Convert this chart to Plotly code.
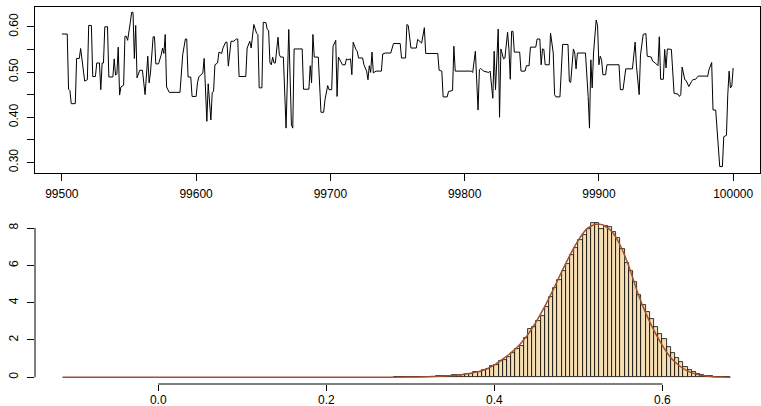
import numpy as np
import plotly.graph_objects as go

# ---------------- trace plot data (iteration, value) ----------------
trace_iter = [
    99500, 99504, 99505, 99506, 99507, 99510, 99511, 99513, 99514, 99515,
    99517, 99519, 99520, 99522, 99523, 99525, 99526, 99528, 99529, 99530,
    99531, 99532, 99534, 99535, 99538, 99539, 99540, 99541, 99542, 99543,
    99544, 99546, 99547, 99548, 99549, 99551, 99552, 99553, 99554, 99555,
    99556, 99558, 99560, 99562, 99564, 99565, 99566, 99568, 99569, 99570,
    99572, 99574, 99575, 99576, 99577, 99578, 99580, 99588, 99590, 99592,
    99593, 99594, 99596, 99597, 99600, 99601, 99602, 99605, 99606, 99608,
    99609, 99611, 99612, 99613, 99614, 99616, 99617, 99619, 99620, 99622,
    99623, 99624, 99626, 99628, 99630, 99631, 99632, 99637, 99638, 99640,
    99641, 99643, 99645, 99646, 99647, 99649, 99650, 99652, 99653, 99654,
    99655, 99656, 99657, 99658, 99659, 99661, 99662, 99663, 99665, 99667,
    99668, 99669, 99671, 99672, 99673, 99679, 99680, 99684, 99685, 99686,
    99687, 99688, 99691, 99693, 99695, 99696, 99698, 99699, 99701, 99702,
    99704, 99705, 99706, 99707, 99709, 99711, 99712, 99713, 99715, 99716,
    99717, 99719, 99720, 99721, 99724, 99725, 99727, 99728, 99729, 99730,
    99731, 99732, 99734, 99738, 99739, 99741, 99745, 99747, 99752, 99753,
    99756, 99757, 99758, 99760, 99764, 99765, 99767, 99768, 99770, 99771,
    99780, 99781, 99783, 99784, 99787, 99788, 99791, 99792, 99793, 99805,
    99806, 99808, 99810, 99811, 99812, 99814, 99818, 99819, 99821, 99822,
    99823, 99825, 99826, 99827, 99829, 99830, 99832, 99833, 99834, 99835,
    99836, 99837, 99841, 99842, 99845, 99846, 99848, 99849, 99853, 99854,
    99856, 99857, 99858, 99859, 99860, 99863, 99864, 99866, 99867, 99868,
    99871, 99873, 99877, 99878, 99879, 99881, 99882, 99883, 99884, 99890,
    99892, 99893, 99894, 99895, 99896, 99898, 99899, 99900, 99901, 99902,
    99903, 99905, 99906, 99915, 99916, 99918, 99920, 99925, 99927, 99928,
    99930, 99931, 99933, 99935, 99936, 99939, 99940, 99942, 99944, 99945,
    99946, 99948, 99949, 99950, 99951, 99954, 99956, 99959, 99960, 99961,
    99962, 99964, 99965, 99967, 99969, 99970, 99972, 99974, 99980, 99981,
    99982, 99984, 99985, 99987, 99990, 99992, 99993, 99995, 99996, 99997,
    99998, 99999, 100000,
]
trace_value = [
    0.584, 0.584, 0.462, 0.459, 0.430, 0.430, 0.530, 0.530, 0.552, 0.530,
    0.480, 0.483, 0.603, 0.603, 0.490, 0.490, 0.520, 0.520, 0.461, 0.520,
    0.520, 0.600, 0.600, 0.489, 0.489, 0.529, 0.493, 0.496, 0.555, 0.449,
    0.467, 0.471, 0.579, 0.579, 0.570, 0.610, 0.632, 0.632, 0.530, 0.603,
    0.487, 0.504, 0.504, 0.450, 0.535, 0.476, 0.498, 0.578, 0.578, 0.518,
    0.518, 0.538, 0.553, 0.541, 0.583, 0.467, 0.455, 0.455, 0.538, 0.573,
    0.573, 0.489, 0.489, 0.446, 0.446, 0.476, 0.489, 0.498, 0.530, 0.391,
    0.474, 0.394, 0.455, 0.457, 0.516, 0.520, 0.544, 0.541, 0.553, 0.566,
    0.566, 0.513, 0.568, 0.568, 0.573, 0.573, 0.490, 0.490, 0.553, 0.568,
    0.553, 0.605, 0.586, 0.583, 0.465, 0.465, 0.610, 0.609, 0.594, 0.592,
    0.520, 0.516, 0.533, 0.520, 0.520, 0.577, 0.538, 0.533, 0.533, 0.376,
    0.476, 0.594, 0.383, 0.376, 0.551, 0.551, 0.462, 0.462, 0.514, 0.476,
    0.583, 0.533, 0.533, 0.411, 0.411, 0.439, 0.470, 0.461, 0.461, 0.557,
    0.570, 0.446, 0.533, 0.527, 0.516, 0.516, 0.529, 0.527, 0.529, 0.494,
    0.566, 0.550, 0.546, 0.531, 0.531, 0.516, 0.502, 0.483, 0.514, 0.499,
    0.544, 0.498, 0.502, 0.502, 0.540, 0.542, 0.542, 0.563, 0.563, 0.531,
    0.531, 0.605, 0.603, 0.553, 0.553, 0.572, 0.566, 0.564, 0.598, 0.541,
    0.541, 0.504, 0.502, 0.445, 0.445, 0.457, 0.459, 0.557, 0.502, 0.502,
    0.499, 0.546, 0.416, 0.505, 0.508, 0.502, 0.499, 0.502, 0.442, 0.546,
    0.461, 0.595, 0.400, 0.551, 0.529, 0.531, 0.588, 0.550, 0.484, 0.590,
    0.590, 0.544, 0.544, 0.502, 0.502, 0.514, 0.514, 0.555, 0.555, 0.573,
    0.573, 0.516, 0.551, 0.550, 0.516, 0.516, 0.586, 0.542, 0.450, 0.445,
    0.445, 0.561, 0.561, 0.479, 0.477, 0.551, 0.542, 0.507, 0.542, 0.542,
    0.446, 0.376, 0.527, 0.465, 0.542, 0.615, 0.603, 0.516, 0.535, 0.527,
    0.494, 0.494, 0.516, 0.516, 0.461, 0.461, 0.507, 0.507, 0.566, 0.513,
    0.450, 0.538, 0.583, 0.585, 0.535, 0.533, 0.524, 0.520, 0.514, 0.578,
    0.484, 0.484, 0.550, 0.509, 0.551, 0.550, 0.453, 0.451, 0.446, 0.450,
    0.511, 0.483, 0.481, 0.468, 0.479, 0.483, 0.484, 0.491, 0.491, 0.490,
    0.505, 0.521, 0.416, 0.416, 0.291, 0.291, 0.357, 0.360, 0.450, 0.502,
    0.465, 0.469, 0.509,
]
trace_xticks = [99500, 99600, 99700, 99800, 99900, 100000]
trace_xticklabels = ["99500", "99600", "99700", "99800", "99900", "100000"]
trace_yticks = [0.30, 0.35, 0.40, 0.45, 0.50, 0.55, 0.60]
trace_yticklabels = ["0.30", "", "0.40", "", "0.50", "", "0.60"]

# ---------------- histogram data (density per bin) ----------------
hist_first_edge = 0.280
hist_bin_width = 0.005
hist_density = [
    0.005, 0.005, 0.01, 0.01,
    0.01, 0.015, 0.02, 0.02,
    0.03, 0.03, 0.05, 0.06,
    0.07, 0.09, 0.10, 0.12,
    0.15, 0.18, 0.20, 0.27,
    0.30, 0.40, 0.45, 0.60,
    0.68, 0.85, 0.95, 1.10,
    1.30, 1.50, 1.70, 2.10,
    2.60, 2.70, 3.00, 3.30,
    3.75, 4.30, 4.80, 5.20,
    5.70, 6.05, 6.55, 6.95,
    7.35, 7.60, 7.95, 8.26,
    8.25, 7.95, 8.10, 8.05,
    7.80, 7.45, 6.90, 6.10,
    5.70, 5.10, 4.40, 3.90,
    3.50, 3.10, 2.70, 2.30,
    2.05, 1.60, 1.30, 1.05,
    0.80, 0.55, 0.40, 0.30,
    0.20, 0.13, 0.08, 0.05,
    0.03, 0.02, 0.01, 0.005,
]
dens_x = [-0.114, 0.25, 0.30, 0.32, 0.34, 0.36, 0.37, 0.38, 0.39, 0.40,
          0.41, 0.42, 0.43, 0.44, 0.45, 0.46, 0.47, 0.48, 0.49, 0.50,
          0.51, 0.52, 0.53, 0.54, 0.55, 0.56, 0.57, 0.58, 0.59, 0.60,
          0.61, 0.62, 0.63, 0.64, 0.65, 0.66, 0.67, 0.681]
dens_y = [0.0, 0.002, 0.015, 0.03, 0.065, 0.14, 0.20, 0.29, 0.43, 0.66,
          0.98, 1.32, 1.75, 2.30, 3.00, 3.80, 4.70, 5.65, 6.55, 7.35,
          7.95, 8.20, 8.15, 7.80, 7.05, 5.95, 4.60, 3.45, 2.50, 1.70,
          1.05, 0.62, 0.33, 0.17, 0.08, 0.035, 0.012, 0.003]
hist_xticks = [0.0, 0.2, 0.4, 0.6]
hist_xticklabels = ["0.0", "0.2", "0.4", "0.6"]
hist_yticks = [0, 2, 4, 6, 8]
hist_yticklabels = ["0", "2", "4", "6", "8"]

# ---------------- layout geometry ----------------
W, H = 761, 406
xd = [35 / W, 760 / W]
top_dom = [1 - 173.3 / H, 1 - 6.7 / H]
bot_dom = [1 - 384 / H, 1 - 216 / H]

FONT = "Liberation Sans, Arial, Helvetica, sans-serif"
NARROW = "Liberation Sans Narrow, Arial Narrow, Liberation Sans, Arial, sans-serif"

centers = hist_first_edge + hist_bin_width * (np.arange(len(hist_density)) + 0.5)

fig = go.Figure()
fig.add_trace(go.Scatter(x=trace_iter, y=trace_value, mode="lines",
                         line=dict(color="black", width=1),
                         xaxis="x", yaxis="y", showlegend=False, hoverinfo="skip"))
fig.add_trace(go.Bar(x=centers, y=hist_density, width=hist_bin_width,
                     marker=dict(color="#F7DEB2", line=dict(color="black", width=0.8)),
                     xaxis="x2", yaxis="y2", showlegend=False, hoverinfo="skip"))
fig.add_trace(go.Scatter(x=dens_x, y=dens_y, mode="lines",
                         line=dict(color="#A0522D", width=1.5, shape="spline", smoothing=0.6),
                         xaxis="x2", yaxis="y2", showlegend=False, hoverinfo="skip"))

axis_common = dict(showgrid=False, zeroline=False, ticks="outside",
                   tickwidth=1, tickcolor="black", automargin=False,
                   tickfont=dict(family=FONT, size=12, color="black"))
narrow_font = dict(family=NARROW, size=12, color="black")

fig.update_layout(
    width=W, height=H, margin=dict(l=0, r=0, t=0, b=0, autoexpand=False),
    paper_bgcolor="white", plot_bgcolor="white", bargap=0,
    xaxis=dict(domain=xd, anchor="y", range=[99480, 100020],
               tickmode="array", tickvals=trace_xticks, ticktext=trace_xticklabels,
               showline=True, linecolor="black", linewidth=1, mirror=True,
               ticklen=7, ticklabelstandoff=2, **axis_common),
    yaxis=dict(domain=top_dom, anchor="x", range=[0.2761, 0.6444],
               tickmode="array", tickvals=trace_yticks, ticktext=trace_yticklabels,
               showline=True, linecolor="black", linewidth=1, mirror=True,
               ticklen=7, tickangle=-90, ticklabelstandoff=4,
               **{**axis_common, "tickfont": narrow_font}),
    xaxis2=dict(domain=xd, anchor="y2", range=[-0.1467, 0.7161],
                tickmode="array", tickvals=hist_xticks, ticktext=hist_xticklabels,
                showline=False, ticklen=6, ticklabelstandoff=-1, **axis_common),
    yaxis2=dict(domain=bot_dom, anchor="x2", range=[-0.359, 8.643],
                tickmode="array", tickvals=hist_yticks, ticktext=hist_yticklabels,
                showline=False, ticklen=7, tickangle=-90, ticklabelstandoff=4,
                **{**axis_common, "tickfont": narrow_font}),
    shapes=[
        dict(type="line", xref="x2", yref="paper", x0=hist_xticks[0], x1=hist_xticks[-1],
             y0=bot_dom[0], y1=bot_dom[0], line=dict(color="black", width=1)),
        dict(type="line", xref="paper", yref="y2", x0=xd[0], x1=xd[0],
             y0=hist_yticks[0], y1=hist_yticks[-1], line=dict(color="black", width=1)),
    ],
)

fig.write_html("out.html")
